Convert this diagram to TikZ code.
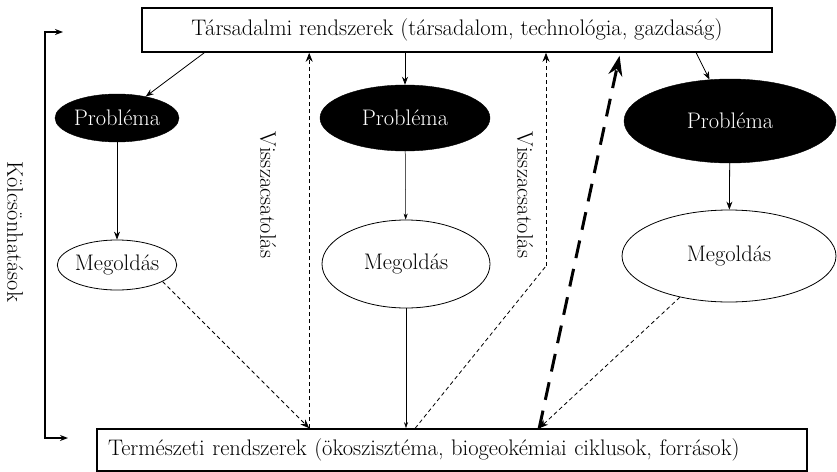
\documentclass[tikz,border=0pt]{standalone}
\usetikzlibrary{arrows.meta}
\usetikzlibrary{shapes.geometric}
\usetikzlibrary{calc}

\begin{document}
\begin{tikzpicture}[x=1pt, y=-1pt,
    every node/.style={font=\fontsize{22.5}{27}\selectfont},
    rendszer/.style={draw, line width=1.6pt, inner sep=0pt},
    problema/.style={ellipse, draw, fill=black, text=white, inner sep=0pt},
    megoldas/.style={ellipse, draw, line width=0.8pt, inner sep=0pt},
    nyil/.style={-{Stealth[length=8pt,width=6pt]}, line width=0.8pt},
    vekony/.style={-{Stealth[length=6pt,width=4pt]}, line width=0.5pt},
    szaggatott/.style={-{Stealth[length=9pt,width=7pt]}, dashed, dash pattern=on 4pt off 3pt, line width=0.8pt}]
        \useasboundingbox (0,0) rectangle (837,471);
        % rendszerek
        \node [rendszer, minimum width=630pt, minimum height=44pt] (tars) at (457,30) {Társadalmi rendszerek (társadalom, technológia, gazdaság)};
        \node [rendszer, minimum height=42pt, inner xsep=11pt, text width=688pt, align=left] (term) at (452,450) {Természeti rendszerek (ökoszisztéma, biogeokémiai ciklusok, források)};
        % problemak es megoldasok
        \node [problema, minimum width=124pt, minimum height=48pt] (prob1) at (117,118) {Probléma};
        \node [problema, minimum width=170pt, minimum height=66pt] (prob2) at (405,118) {Probléma};
        \node [problema, minimum width=212pt, minimum height=84pt] (prob3) at (730,121) {Probléma};
        \node [megoldas, minimum width=114pt, minimum height=50pt] (meg1) at (117,265) {Megoldás};
        \node [megoldas, minimum width=168pt, minimum height=88pt] (meg2) at (406,264) {Megoldás};
        \node [megoldas, minimum width=214pt, minimum height=92pt] (meg3) at (729,256) {Megoldás};
        \draw [nyil] ([xshift=63pt]tars.south west) -- (prob1);
        \draw [nyil] (prob2 |- tars.south) -- (prob2);
        \draw [nyil] ([xshift=555pt]tars.south west) -- (prob3);
        \draw [nyil] (prob1) -- (meg1);
        \draw [vekony] (prob2) -- (meg2);
        \draw [nyil] (prob3) -- (meg3);
        \draw [szaggatott] (meg1.-20) -- ([xshift=213pt]term.north west);
        \draw [vekony] (meg2) -- (meg2 |- term.north);
        \draw [szaggatott] (meg3.220) -- ([xshift=443pt]term.north west);
        % visszacsatolas
        \coordinate (torés) at (546,266);
        \draw [szaggatott] ([xshift=213pt]term.north west) -- ([xshift=213pt]term.north west |- tars.south);
        \draw [szaggatott, -] ([xshift=319pt]term.north west) -- (torés);
        \draw [szaggatott] (torés) -- (torés |- tars.south);
        \node [rotate=-90] (vissza1) at (268,195) {Visszacsatolás};
        \node [rotate=-90] (vissza2) at (525,195) {Visszacsatolás};
        \draw [-{Stealth[length=20pt,width=14pt]}, line width=3pt, dash pattern=on 18pt off 11pt, shorten >=3pt] ([xshift=443pt]term.north west) -- ([xshift=479pt]tars.south west);
        % kolcsonhatasok
        \coordinate (kfent) at (45,32);
        \coordinate (klent) at (45,438);
        \draw [{Stealth[length=8pt,width=6pt]}-{Stealth[length=8pt,width=6pt]}, line width=1.4pt] ([xshift=18pt]kfent) -- (kfent) -- (klent) -- ([xshift=23pt]klent);
        \node [rotate=-90] (kolcs) at (15,232) {Kölcsönhatások};
\end{tikzpicture}
\end{document}
